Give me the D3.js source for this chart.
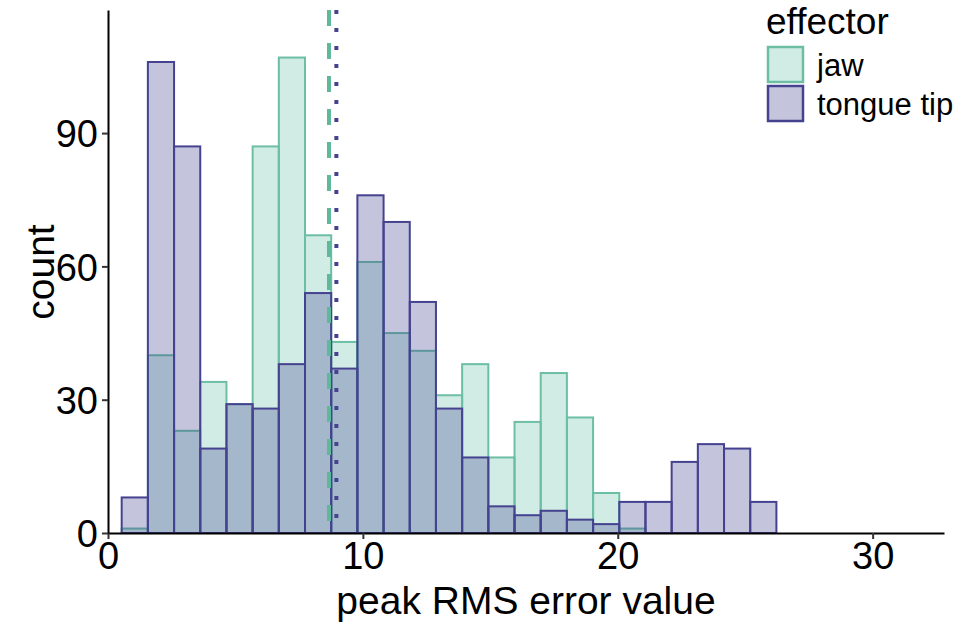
<!DOCTYPE html>
<html>
<head>
<meta charset="utf-8">
<script src="https://cdn.jsdelivr.net/npm/d3@7"></script>
<style>
  body { margin: 0; background: #fff; }
  text { font-family: "Liberation Sans", Arial, sans-serif; fill: #000; }
</style>
</head>
<body>
<svg width="960" height="630">
  <g id="vis"></g>
</svg>
<script>
// histogram bins (shared by both groups)
const binStart = 0.537
const binWidth = 1.0275
const jawCounts = [1, 40, 23, 34, 29, 87, 107, 67, 43, 61, 45, 41, 31, 38, 17, 25, 36, 26, 9, 1, 0, 0, 0, 0, 0]
const tongueCounts = [8, 106, 87, 19, 29, 28, 38, 54, 37, 76, 70, 52, 28, 17, 6, 4, 5, 3, 2, 7, 7, 16, 20, 19, 7]
// group means
const jawMean = 8.67
const tongueMean = 8.96
const xTicks = [0, 10, 20, 30]
const yTicks = [0, 30, 60, 90]
const groups = ['jaw', 'tongue tip']

const svg = d3.select('svg')
const vis = svg.select('#vis')

const plotLeft = 108
const plotRight = 944
const plotTop = 10
const plotBottom = 533

const xScale = d3.scaleLinear()
  .domain([0, 32.8])
  .range([plotLeft, plotRight])

const yScale = d3.scaleLinear()
  .domain([0, 117.7])
  .range([plotBottom, plotTop])

const colors = {
  jaw: { fill: '#66bfa4', stroke: '#6cbea5', dash: '#5fb89c' },
  tongue: { fill: '#3f3c8e', stroke: '#45428f' }
}

function bins (counts) {
  return counts.map((c, i) => ({
    x0: binStart + i * binWidth,
    x1: binStart + (i + 1) * binWidth,
    count: c
  })).filter(d => d.count > 0)
}

// jaw bars first, tongue tip drawn on top
function drawBars (counts, col, cls) {
  vis.append('g')
    .attr('class', cls)
    .selectAll('rect')
    .data(bins(counts))
    .join('rect')
    .attr('x', d => xScale(d.x0))
    .attr('width', d => xScale(d.x1) - xScale(d.x0))
    .attr('y', d => yScale(d.count))
    .attr('height', d => yScale(0) - yScale(d.count))
    .style('fill', col.fill)
    .style('fill-opacity', 0.3)
    .style('stroke', col.stroke)
    .style('stroke-width', 2)
}

drawBars(jawCounts, colors.jaw, 'jaw')
drawBars(tongueCounts, colors.tongue, 'tongue')

// mean lines
vis.append('line')
  .attr('x1', xScale(jawMean))
  .attr('x2', xScale(jawMean))
  .attr('y1', plotTop)
  .attr('y2', plotBottom)
  .style('stroke', colors.jaw.dash)
  .style('stroke-width', 4)
  .style('stroke-dasharray', '16,17')

vis.append('line')
  .attr('x1', xScale(tongueMean))
  .attr('x2', xScale(tongueMean))
  .attr('y1', plotTop)
  .attr('y2', plotBottom)
  .style('stroke', colors.tongue.stroke)
  .style('stroke-width', 4)
  .style('stroke-dasharray', '4,14')

// axes
const xAxis = vis.append('g')
  .attr('transform', `translate(0,${plotBottom})`)
  .call(d3.axisBottom(xScale).tickValues(xTicks).tickSize(6).tickSizeOuter(0).tickPadding(3))
xAxis.select('.domain').style('stroke', '#000').style('stroke-width', 2)
xAxis.selectAll('line').style('stroke', '#333').style('stroke-width', 2)
xAxis.selectAll('text').style('font-size', '38px').attr('dy', '0.72em')

const yAxis = vis.append('g')
  .attr('transform', `translate(${plotLeft},0)`)
  .call(d3.axisLeft(yScale).tickValues(yTicks).tickSize(6).tickSizeOuter(0).tickPadding(4))
yAxis.select('.domain').style('stroke', '#000').style('stroke-width', 2)
yAxis.selectAll('line').style('stroke', '#333').style('stroke-width', 2)
yAxis.selectAll('text').style('font-size', '38px').attr('dy', '0.36em')

// axis titles
vis.append('text')
  .attr('x', 526)
  .attr('y', 614)
  .style('text-anchor', 'middle')
  .style('font-size', '39px')
  .text('peak RMS error value')

vis.append('text')
  .attr('transform', `translate(54,272) rotate(-90)`)
  .style('text-anchor', 'middle')
  .style('font-size', '39px')
  .text('count')

// legend
const legend = vis.append('g')
  .attr('transform', 'translate(768,0)')

legend.append('text')
  .attr('x', -2)
  .attr('y', 34)
  .style('font-size', '37px')
  .text('effector')

const keys = legend.selectAll('g.key')
  .data(groups)
  .join('g')
  .attr('class', 'key')
  .attr('transform', (d, i) => `translate(0,${47 + i * 39})`)

keys.append('rect')
  .attr('width', 35)
  .attr('height', 35)
  .style('fill', d => d === 'jaw' ? colors.jaw.fill : colors.tongue.fill)
  .style('fill-opacity', 0.3)
  .style('stroke', d => d === 'jaw' ? colors.jaw.stroke : colors.tongue.stroke)
  .style('stroke-width', 2.5)

keys.append('text')
  .attr('x', 49)
  .attr('y', 18)
  .attr('dy', '0.35em')
  .style('font-size', '31px')
  .text(d => d)
</script>
</body>
</html>
